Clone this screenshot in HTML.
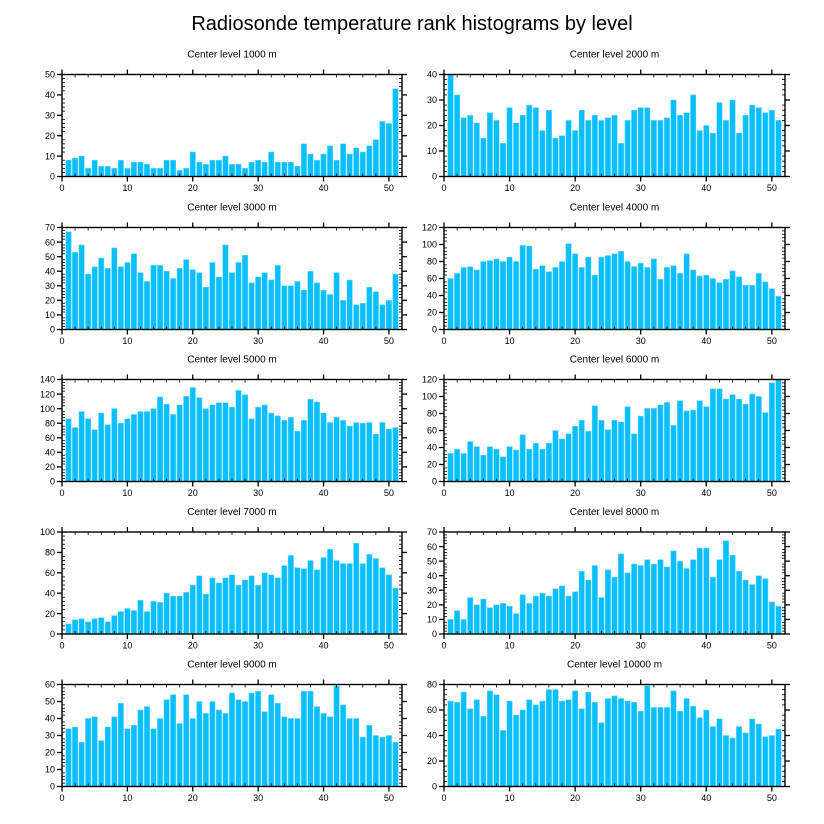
<!DOCTYPE html>
<html><head><meta charset="utf-8"><style>
html,body{margin:0;padding:0;background:#fff;}
svg{display:block;font-family:"Liberation Sans",Arial,sans-serif;}
</style></head><body>
<svg id="chart" width="824" height="824" viewBox="0 0 824 824" xmlns="http://www.w3.org/2000/svg">
<text x="412" y="30" text-anchor="middle" font-size="20" fill="#000">Radiosonde temperature rank histograms by level</text>
</svg>
<script>
const levels = ["1000","2000","3000","4000","5000","6000","7000","8000","9000","10000"];
const yMaxes = [50,40,70,120,140,120,100,70,60,80];
const ySteps = [10,10,10,20,20,20,20,10,10,20];
const xTicks = [0,10,20,30,40,50];
const v1000 = [8,9,10,4,8,5,5,4,8,4,7,7,6,4,4,8,8,3,4,12,7,6,8,8,10,6,6,4,7,8,7,12,7,7,7,5,16,11,8,11,15,8,16,11,14,12,15,18,27,26,43];
const v2000 = [40,32,23,24,21,15,25,22,13,27,21,24,28,27,18,26,15,16,22,18,26,22,24,22,23,24,13,22,26,27,27,22,22,23,30,24,25,32,18,20,17,29,22,30,17,24,28,27,25,26,22];
const v3000 = [67,53,58,38,43,49,42,56,43,46,52,39,33,44,44,40,35,42,48,41,39,29,46,36,58,39,46,51,32,36,39,34,44,30,30,33,27,40,32,27,24,39,20,34,17,18,29,26,17,20,38];
const v4000 = [60,66,73,74,70,80,81,83,80,85,80,99,98,71,75,68,73,80,101,89,73,85,64,85,87,89,92,80,74,78,73,83,59,73,75,66,89,70,63,64,60,55,59,69,62,52,52,66,56,48,39];
const v5000 = [86,74,96,86,71,94,78,100,80,86,92,96,96,100,116,106,92,105,117,129,115,100,105,108,108,102,125,119,86,102,105,94,90,84,88,69,84,113,109,94,81,88,84,76,81,80,81,65,81,72,74];
const v6000 = [33,38,33,47,41,31,41,38,29,41,37,55,38,45,38,45,60,50,56,65,72,59,89,72,61,72,70,88,56,77,86,86,90,93,66,95,83,84,95,88,109,109,97,102,97,91,103,100,81,116,120];
const v7000 = [10,14,15,12,15,16,12,18,22,25,23,33,22,32,31,40,37,37,41,48,57,39,55,50,55,58,48,53,57,48,60,58,55,67,77,65,64,72,63,75,83,72,69,69,89,69,78,74,65,58,45];
const v8000 = [10,16,10,25,20,24,18,20,21,19,14,27,21,26,28,26,31,33,26,29,43,37,47,25,44,39,55,42,48,47,51,48,51,46,57,50,45,51,59,59,39,51,64,54,43,37,34,40,38,22,19];
const v9000 = [34,35,26,40,41,27,35,41,49,34,36,45,47,34,40,51,54,37,54,40,50,43,50,45,43,55,51,50,55,56,44,54,49,41,40,40,56,56,47,43,41,59,48,40,40,29,36,30,29,30,26];
const v10000 = [67,66,74,61,68,55,75,72,44,67,56,60,68,64,67,76,76,67,68,75,61,74,66,50,69,71,69,67,66,59,79,62,62,62,75,59,69,63,54,60,47,53,40,38,47,42,53,49,39,40,45];
const seriesList = [v1000,v2000,v3000,v4000,v5000,v6000,v7000,v8000,v9000,v10000];

const NS = "http://www.w3.org/2000/svg";
const svg = document.getElementById("chart");
function mk(tag, attrs, parent){
  const e = document.createElementNS(NS, tag);
  for (const k in attrs) e.setAttribute(k, attrs[k]);
  parent.appendChild(e);
  return e;
}
const colX = [[62,402],[444,785]];
const rowTop = [74.5,227.5,379.5,532,684.5];
const panelH = 102;
const XMAX = 52;

for (let p = 0; p < 10; p++) {
  const col = p % 2, row = Math.floor(p / 2);
  const L = colX[col][0], R = colX[col][1], T = rowTop[row], B = T + panelH;
  const ymax = yMaxes[p], step = ySteps[p], vals = seriesList[p];
  const xs = v => L + (v / XMAX) * (R - L);
  const ys = v => B - (v / ymax) * (B - T);
  const g = mk("g", {}, svg);
  
  

  const tt = mk("text", {x:(L+R)/2, y:T-17, "text-anchor":"middle", "font-size":"10", fill:"#000"}, g);
  tt.textContent = "Center level " + levels[p] + " m";
  
  

  const bw = (xs(1) - xs(0)) * 0.82;
  vals.forEach((v, i) => {
    const x = xs(i + 1);
    const r = mk("rect", {x:x - bw/2, y:ys(v), width:bw, height:B - ys(v), fill:"#0abfff", stroke:"#5fd3ff", "stroke-width":"0.5"}, g);
    
    
  });

  for (let t = 0; t <= XMAX; t += 2) {
    const x = xs(t), major = (t % 10 === 0);
    const len = major ? 5 : 3;
    const d1 = major ? [B, B+len] : [B, B-len];
    const d2 = major ? [T, T-len] : [T, T+len];
    mk("line", {x1:x, x2:x, y1:d1[0], y2:d1[1], stroke:"#000", "stroke-width":major?1.3:0.8}, g);
    mk("line", {x1:x, x2:x, y1:d2[0], y2:d2[1], stroke:"#000", "stroke-width":major?1.3:0.8}, g);
  }
  xTicks.forEach(t => {
    const lb = mk("text", {x:xs(t), y:B+14.5, "text-anchor":"middle", "font-size":"9", fill:"#000"}, g);
    lb.textContent = t;
    
    
  });
  const minor = step / 5;
  for (let t = 0; t <= ymax + 1e-9; t += minor) {
    const y = ys(t), major = Math.abs(t/step - Math.round(t/step)) < 1e-6;
    const len = major ? 5 : 3;
    if (major) {
      mk("line", {x1:L, x2:L-len, y1:y, y2:y, stroke:"#000", "stroke-width":1.3}, g);
      mk("line", {x1:R, x2:R+len, y1:y, y2:y, stroke:"#000", "stroke-width":1.3}, g);
    } else {
      mk("line", {x1:L, x2:L+len, y1:y, y2:y, stroke:"#000", "stroke-width":0.8}, g);
      mk("line", {x1:R, x2:R-len, y1:y, y2:y, stroke:"#000", "stroke-width":0.8}, g);
    }
  }
  for (let t = 0; t <= ymax; t += step) {
    const lb = mk("text", {x:L-7, y:ys(t)+3.2, "text-anchor":"end", "font-size":"9", fill:"#000"}, g);
    lb.textContent = t;
    
    
  }
  const fr = mk("rect", {x:L, y:T, width:R-L, height:panelH, fill:"none", stroke:"#000", "stroke-width":1.4}, g);
  
  
}
</script>
</body></html>
